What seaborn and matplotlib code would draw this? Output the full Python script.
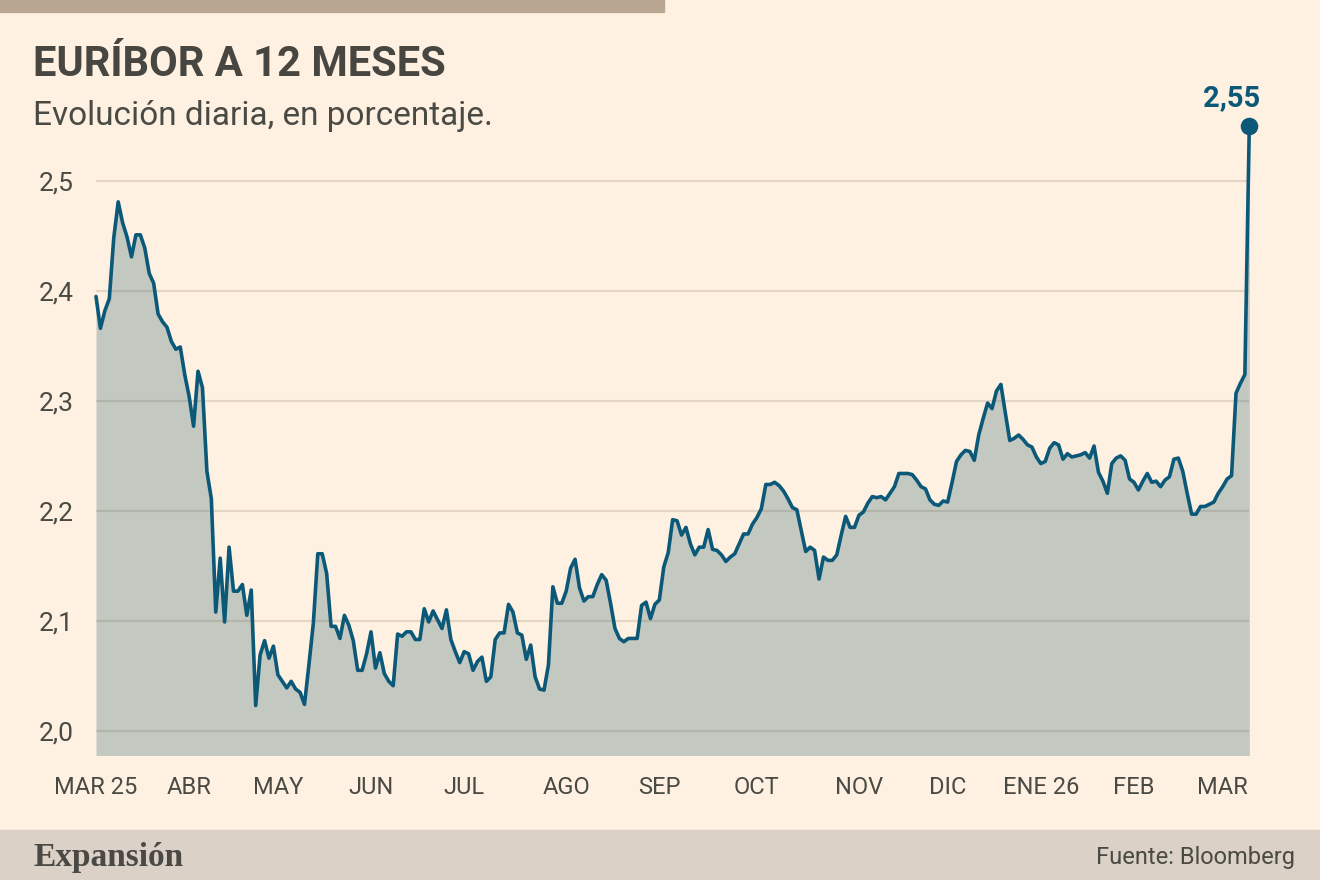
import numpy as np
import pandas as pd
import matplotlib
matplotlib.use("Agg")
import matplotlib.pyplot as plt
import seaborn as sns
from matplotlib.patches import Rectangle

# Euríbor a 12 meses, valor diario (días hábiles TARGET)
valores = [
    2.395, 2.366, 2.382, 2.393, 2.448, 2.481, 2.462, 2.449, 2.431, 2.451,
    2.451, 2.439, 2.416, 2.407, 2.379, 2.372, 2.367, 2.354, 2.347, 2.349,
    2.324, 2.304, 2.277, 2.327, 2.312, 2.236, 2.211, 2.108, 2.157, 2.099,
    2.167, 2.127, 2.127, 2.133, 2.105, 2.128, 2.023, 2.069, 2.082, 2.066,
    2.077, 2.051, 2.045, 2.039, 2.045, 2.038, 2.035, 2.024, 2.060, 2.098,
    2.161, 2.161, 2.143, 2.095, 2.095, 2.084, 2.105, 2.096, 2.082, 2.055,
    2.055, 2.070, 2.090, 2.057, 2.071, 2.052, 2.045, 2.041, 2.088, 2.086,
    2.090, 2.090, 2.083, 2.083, 2.111, 2.099, 2.109, 2.101, 2.093, 2.110,
    2.083, 2.072, 2.062, 2.072, 2.070, 2.055, 2.063, 2.067, 2.045, 2.049,
    2.083, 2.089, 2.089, 2.115, 2.108, 2.089, 2.087, 2.065, 2.078, 2.049,
    2.038, 2.037, 2.060, 2.131, 2.116, 2.116, 2.127, 2.148, 2.156, 2.130,
    2.118, 2.122, 2.122, 2.133, 2.142, 2.137, 2.116, 2.093, 2.084, 2.081,
    2.084, 2.084, 2.084, 2.114, 2.117, 2.102, 2.115, 2.119, 2.149, 2.162,
    2.192, 2.191, 2.178, 2.185, 2.170, 2.160, 2.167, 2.167, 2.183, 2.165,
    2.164, 2.160, 2.154, 2.158, 2.161, 2.170, 2.179, 2.179, 2.188, 2.194,
    2.202, 2.224, 2.224, 2.226, 2.223, 2.218, 2.211, 2.203, 2.201, 2.182,
    2.163, 2.167, 2.164, 2.138, 2.158, 2.155, 2.155, 2.160, 2.178, 2.195,
    2.185, 2.185, 2.196, 2.199, 2.207, 2.213, 2.212, 2.213, 2.210, 2.216,
    2.222, 2.234, 2.234, 2.234, 2.233, 2.228, 2.222, 2.220, 2.210, 2.206,
    2.205, 2.209, 2.208, 2.226, 2.245, 2.251, 2.255, 2.254, 2.246, 2.269,
    2.284, 2.298, 2.293, 2.309, 2.315, 2.289, 2.264, 2.266, 2.269, 2.265,
    2.260, 2.258, 2.249, 2.243, 2.245, 2.257, 2.262, 2.260, 2.247, 2.252,
    2.249, 2.250, 2.251, 2.253, 2.248, 2.259, 2.235, 2.227, 2.216, 2.243,
    2.248, 2.250, 2.246, 2.229, 2.226, 2.219, 2.227, 2.234, 2.226, 2.227,
    2.222, 2.228, 2.231, 2.247, 2.248, 2.236, 2.216, 2.197, 2.197, 2.204,
    2.204, 2.206, 2.208, 2.216, 2.222, 2.229, 2.232, 2.307, 2.316, 2.324,
    2.550,
]
festivos = ["2025-04-18", "2025-04-21", "2025-05-01",
            "2025-12-25", "2025-12-26", "2026-01-01"]
meses = ["MAR 25", "ABR", "MAY", "JUN", "JUL", "AGO", "SEP",
         "OCT", "NOV", "DIC", "ENE 26", "FEB", "MAR"]
ticks_y = [2.0, 2.1, 2.2, 2.3, 2.4, 2.5]

fechas = pd.bdate_range("2025-03-03", "2026-03-10")
fechas = fechas[~fechas.isin(pd.to_datetime(festivos))]
df = pd.DataFrame({"fecha": fechas, "valor": valores})
df["idx"] = np.arange(len(df))
inicio_mes = df.groupby(df["fecha"].dt.to_period("M"))["idx"].first().values

# colores
fondo = "#FEF1E1"
azul = "#0B5878"
relleno = "#C3C9C1"
gris_txt = "#4A4A44"
tostado = "#B8A693"

sns.set_theme(style="white")
plt.rcParams["font.family"] = ["Roboto", "DejaVu Sans"]

fig = plt.figure(figsize=(13.2, 8.8), dpi=100, facecolor=fondo)
ax = fig.add_axes([96 / 1320, 125 / 880, 1153.3 / 1320, 684 / 880])
ax.set_facecolor(fondo)

ax.fill_between(df["idx"], df["valor"], 1.9, color=relleno, lw=0, zorder=1)
sns.lineplot(data=df, x="idx", y="valor", ax=ax, color=azul, linewidth=2.6,
             zorder=3, clip_on=False)
ult = df.iloc[-1]
ax.scatter([ult["idx"]], [ult["valor"]], s=160, color=azul, zorder=4,
           clip_on=False, linewidths=0)
ax.annotate(f"{ult['valor']:.2f}".replace(".", ","), (ult["idx"], ult["valor"]),
            xytext=(-13, 14), textcoords="offset points", ha="center",
            va="baseline", fontsize=21, fontweight="bold", color=azul,
            annotation_clip=False)

ax.set_xlim(0, len(df) - 1)
ax.set_ylim(1.978, 2.6)
ax.set_yticks(ticks_y)
ax.set_yticklabels([f"{t:.1f}".replace(".", ",") for t in ticks_y])
ax.set_xticks(inicio_mes)
ax.set_xticklabels(meses)
ax.set_xlabel("")
ax.set_ylabel("")

ax.set_axisbelow(False)
ax.yaxis.grid(True, color="#6E5A45", alpha=0.18, linewidth=1.6)
ax.xaxis.grid(False)
for s in ax.spines.values():
    s.set_visible(False)

ax.tick_params(axis="y", length=0, pad=16, labelsize=19, labelcolor=gris_txt)
ax.tick_params(axis="x", length=5, width=1.2, color=tostado, pad=10,
               labelsize=17, labelcolor=gris_txt)

# cabecera y pie
fig.patches.append(Rectangle((0, 1 - 12 / 880), 664 / 1320, 12 / 880,
                             transform=fig.transFigure, color=tostado, zorder=0))
fig.patches.append(Rectangle((0, 0), 1, 50 / 880, transform=fig.transFigure,
                             color="#DBD1C6", zorder=0))

fig.text(33 / 1320, 1 - 76 / 880, "EURÍBOR A 12 MESES", fontsize=30,
         fontweight="bold", color="#474640", va="baseline")
fig.text(33 / 1320, 1 - 125 / 880, "Evolución diaria, en porcentaje.",
         fontsize=24, color=gris_txt, va="baseline")
fig.text(33 / 1320, 14 / 880, "Expansión", fontsize=24, fontweight="bold",
         family=["Liberation Serif", "DejaVu Serif"], color="#4A4945",
         va="baseline")
fig.text(1295 / 1320, 16 / 880, "Fuente: Bloomberg", fontsize=17,
         color=gris_txt, ha="right", va="baseline")

fig.savefig("out.png", dpi=100, facecolor=fondo)
